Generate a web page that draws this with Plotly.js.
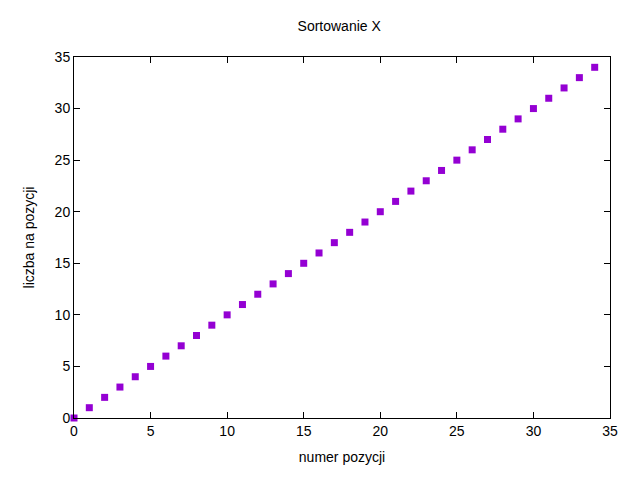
<!DOCTYPE html>
<html><head><meta charset="utf-8">
<script src="https://cdn.plot.ly/plotly-3.0.1.min.js"></script>
<style>body{margin:0}</style></head>
<body><div id="chart" style="width:640px;height:480px"></div>
<script>
const positions = [0,1,2,3,4,5,6,7,8,9,10,11,12,13,14,15,16,17,18,19,20,21,22,23,24,25,26,27,28,29,30,31,32,33,34];
const values = [0,1,2,3,4,5,6,7,8,9,10,11,12,13,14,15,16,17,18,19,20,21,22,23,24,25,26,27,28,29,30,31,32,33,34];

const axis = {
    range: [0, 35], dtick: 5, ticks: 'inside', ticklen: 6, tickcolor: '#000',
    showline: true, linecolor: '#000', linewidth: 1, mirror: 'ticks',
    showgrid: false, zeroline: false, tickfont: { size: 14 }
};
Plotly.newPlot('chart', [{
    x: positions, y: values, type: 'scatter', mode: 'markers', cliponaxis: false,
    marker: { symbol: 'square', size: 7, color: '#9400d3' }
}], {
    width: 640, height: 480,
    paper_bgcolor: '#fff', plot_bgcolor: '#fff',
    font: { family: 'Liberation Sans, Arial, sans-serif', size: 14, color: '#000' },
    title: { text: 'Sortowanie X', x: 0.53, y: 0.955, font: { size: 14 } },
    margin: { l: 74, r: 30, t: 57, b: 62 },
    xaxis: { ...axis, title: { text: 'numer pozycji', standoff: 14, font: { size: 14 } } },
    yaxis: { ...axis, title: { text: 'liczba na pozycji', standoff: 16, font: { size: 14 } } },
    showlegend: false
}, { displayModeBar: false });
</script></body></html>
